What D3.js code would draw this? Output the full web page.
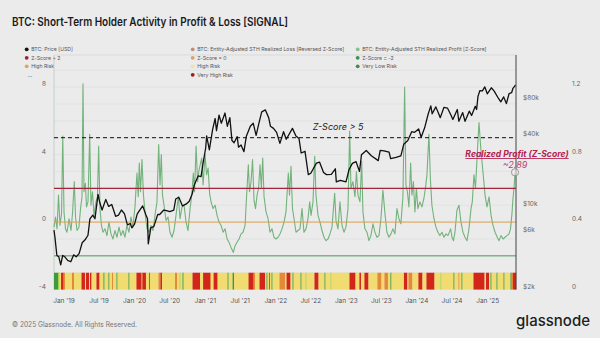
<!DOCTYPE html>
<html>
<head>
<meta charset="utf-8">
<script src="https://cdn.jsdelivr.net/npm/d3@7"></script>
<style>
  body { margin: 0; background: #ebebeb; }
  svg { display: block; font-family: Inter, "Noto Sans", sans-serif; }
</style>
</head>
<body>
<svg id="chart" width="600" height="338"></svg>
<script>
// BTC price (USD)
const priceDate = [
  "2018-11-10","2018-11-15","2018-11-25","2018-12-05","2018-12-15","2018-12-25","2019-01-05","2019-01-20",
  "2019-02-05","2019-02-20","2019-03-05","2019-03-20","2019-04-05","2019-04-20","2019-05-05","2019-05-15",
  "2019-05-30","2019-06-10","2019-06-26","2019-07-05","2019-07-17","2019-08-05","2019-08-20","2019-09-05",
  "2019-09-25","2019-10-10","2019-10-25","2019-11-10","2019-11-25","2019-12-10","2019-12-18","2020-01-01",
  "2020-01-15","2020-02-12","2020-02-28","2020-03-08","2020-03-12","2020-03-25","2020-04-10","2020-04-30",
  "2020-05-10","2020-05-31","2020-06-15","2020-07-01","2020-07-22","2020-08-01","2020-08-17","2020-09-05",
  "2020-09-25","2020-10-10","2020-10-25","2020-11-05","2020-11-25","2020-12-10","2020-12-20","2021-01-03",
  "2021-01-08","2021-01-22","2021-02-08","2021-02-21","2021-02-28","2021-03-13","2021-03-25","2021-04-13",
  "2021-04-25","2021-05-08","2021-05-19","2021-05-30","2021-06-15","2021-06-22","2021-07-05","2021-07-20",
  "2021-08-01","2021-08-22","2021-09-06","2021-09-21","2021-10-05","2021-10-20","2021-11-08","2021-11-25",
  "2021-12-04","2021-12-20","2022-01-05","2022-01-22","2022-02-10","2022-02-24","2022-03-28","2022-04-15",
  "2022-05-01","2022-05-12","2022-06-01","2022-06-18","2022-07-01","2022-07-30","2022-08-15","2022-09-05",
  "2022-09-20","2022-10-15","2022-11-05","2022-11-10","2022-12-01","2022-12-30","2023-01-15","2023-02-01",
  "2023-02-20","2023-03-10","2023-03-20","2023-04-14","2023-05-10","2023-06-15","2023-06-25","2023-07-15",
  "2023-08-10","2023-08-18","2023-09-15","2023-10-10","2023-10-25","2023-11-15","2023-12-05","2023-12-20",
  "2024-01-10","2024-01-23","2024-02-10","2024-02-28","2024-03-13","2024-03-20","2024-04-08","2024-04-20",
  "2024-05-01","2024-05-20","2024-06-07","2024-06-25","2024-07-05","2024-07-28","2024-08-05","2024-08-25",
  "2024-09-06","2024-09-28","2024-10-10","2024-10-29","2024-11-05","2024-11-12","2024-11-22","2024-12-05",
  "2024-12-17","2024-12-30","2025-01-20","2025-02-03","2025-02-27","2025-03-10","2025-03-25","2025-04-08",
  "2025-04-22","2025-05-05","2025-05-12","2025-05-26"
];
const priceUsd = [
  6400,5600,3900,3800,3250,3900,3800,3550,
  3450,3950,3800,4050,5000,5300,5800,8000,
  8600,8000,12900,11000,9500,11700,10200,10600,
  8400,8600,9500,8800,7100,7300,6700,7200,
  8800,10300,8700,8000,4900,6700,6900,8700,
  8700,9500,9400,9200,9500,11800,12200,10300,
  10700,11300,13000,15500,18500,18300,23500,32000,
  40500,30800,46000,57000,45000,61000,52000,63500,
  49000,58000,37000,35500,40000,32500,34000,29800,
  40000,49000,52000,41000,51500,65000,67500,58000,
  49000,47000,43500,35000,44000,38000,47000,40500,
  38500,29000,30000,19000,19500,23800,24300,19800,
  19000,19100,21300,16500,17000,16500,21000,23700,
  24500,20200,28000,30500,27500,25000,30500,30300,
  29500,26000,26600,27400,34500,37000,44000,43500,
  46500,39500,47500,62000,73000,62500,71600,64000,
  58000,71000,70000,61000,56000,68000,54000,64000,
  53900,65800,60500,72500,68000,88000,98500,98000,
  106000,92500,104000,98000,84000,79000,87000,76300,
  93000,94500,103000,110000
];

// Entity-adjusted STH realized profit Z-score (time as decimal year)
const profitT = [
  2018.858,2018.880,2018.901,2018.922,2018.943,2018.965,2018.982,2019.000,2019.021,2019.042,
  2019.071,2019.099,2019.120,2019.146,2019.163,2019.184,2019.212,2019.234,2019.255,2019.269,
  2019.283,2019.302,2019.319,2019.340,2019.364,2019.382,2019.404,2019.425,2019.453,2019.474,
  2019.491,2019.510,2019.531,2019.552,2019.581,2019.609,2019.637,2019.666,2019.694,2019.722,
  2019.751,2019.779,2019.807,2019.836,2019.864,2019.892,2019.921,2019.949,2019.977,2020.006,
  2020.034,2020.052,2020.067,2020.084,2020.105,2020.126,2020.147,2020.176,2020.204,2020.232,
  2020.261,2020.289,2020.317,2020.341,2020.360,2020.378,2020.395,2020.416,2020.445,2020.473,
  2020.501,2020.530,2020.558,2020.586,2020.619,2020.643,2020.671,2020.700,2020.728,2020.756,
  2020.785,2020.806,2020.831,2020.848,2020.870,2020.891,2020.912,2020.950,2020.969,2020.997,
  2021.018,2021.040,2021.061,2021.082,2021.110,2021.139,2021.167,2021.195,2021.224,2021.252,
  2021.280,2021.309,2021.337,2021.365,2021.398,2021.422,2021.450,2021.479,2021.507,2021.535,
  2021.564,2021.585,2021.610,2021.627,2021.649,2021.670,2021.691,2021.712,2021.734,2021.755,
  2021.776,2021.795,2021.814,2021.833,2021.861,2021.890,2021.918,2021.946,2021.974,2022.003,
  2022.031,2022.059,2022.088,2022.116,2022.144,2022.177,2022.194,2022.215,2022.236,2022.258,
  2022.286,2022.314,2022.343,2022.371,2022.399,2022.428,2022.456,2022.480,2022.499,2022.527,
  2022.551,2022.569,2022.598,2022.626,2022.654,2022.683,2022.711,2022.739,2022.768,2022.796,
  2022.834,2022.853,2022.881,2022.909,2022.938,2022.966,2022.994,2023.023,2023.047,2023.065,
  2023.093,2023.122,2023.143,2023.164,2023.193,2023.217,2023.235,2023.263,2023.292,2023.320,
  2023.348,2023.377,2023.405,2023.433,2023.462,2023.490,2023.518,2023.547,2023.575,2023.603,
  2023.632,2023.660,2023.688,2023.717,2023.745,2023.773,2023.802,2023.826,2023.844,2023.865,
  2023.887,2023.911,2023.929,2023.950,2023.972,2023.993,2024.014,2024.042,2024.071,2024.099,
  2024.120,2024.142,2024.170,2024.191,2024.212,2024.241,2024.269,2024.297,2024.326,2024.354,
  2024.382,2024.411,2024.439,2024.477,2024.496,2024.517,2024.538,2024.566,2024.595,2024.623,
  2024.651,2024.680,2024.708,2024.736,2024.765,2024.783,2024.807,2024.828,2024.854,2024.878,
  2024.899,2024.920,2024.942,2024.963,2024.991,2025.020,2025.048,2025.076,2025.105,2025.137,
  2025.161,2025.190,2025.218,2025.246,2025.275,2025.303,2025.324,2025.345,2025.359,2025.374,
  2025.388
];
const profitZ = [
  -0.3,0.3,-0.4,1.6,-0.2,0.5,5.1,0.6,-0.4,-0.6,
  0.2,-0.5,0.5,2.4,0.3,-0.5,-0.3,0.8,1.5,8.2,
  1.8,2.3,0.9,1.2,5.2,1.0,1.8,0.4,1.2,1.5,
  4.5,0.8,-0.2,-0.6,-0.4,-0.8,0.0,-0.7,-1.0,-0.5,
  -0.9,-0.3,-0.8,-0.5,-0.9,-0.2,-0.6,0.3,-0.3,0.9,
  2.9,1.5,3.5,1.8,3.7,1.6,0.6,-0.4,-0.6,-0.2,
  -0.5,0.4,1.2,4.6,2.2,4.0,1.6,1.0,0.1,0.3,
  -0.6,-0.9,-0.5,0.4,1.5,0.2,0.9,1.0,0.0,-0.5,
  0.8,1.5,2.9,1.8,4.5,2.4,3.1,3.8,2.2,4.0,
  2.8,3.2,1.7,1.2,0.8,1.0,0.4,0.0,-0.2,-0.6,
  -0.4,-1.0,-1.2,-1.5,-1.8,-1.4,-1.2,-1.0,-0.7,-0.6,
  -0.2,1.5,3.4,1.8,2.4,3.7,1.3,0.8,1.6,2.0,
  3.4,2.0,3.8,1.5,0.6,0.2,-0.6,-0.4,-0.9,-1.0,
  -0.9,-0.7,-0.4,0.0,0.6,2.9,1.6,3.3,0.8,0.2,
  -0.6,-0.5,-0.4,0.8,-0.6,-0.4,0.2,1.2,0.4,1.2,
  3.9,1.6,0.4,0.0,-0.5,-0.9,-1.1,-1.0,-0.7,-0.3,
  1.7,0.1,-0.4,1.2,-0.2,-0.6,-0.3,0.8,5.4,2.0,
  2.4,1.5,3.0,1.6,1.2,3.6,0.6,-0.4,-0.6,-1.1,
  -0.8,-0.1,-0.6,-0.9,-0.8,0.2,1.9,0.5,-0.6,-0.9,
  -0.7,-0.4,-0.7,0.8,0.2,-0.1,1.5,8.0,2.2,1.8,
  0.9,3.5,1.6,2.4,0.6,2.0,0.8,1.2,0.9,1.4,
  2.0,2.8,5.2,2.5,1.0,0.2,-0.3,-0.6,-0.8,-0.6,
  -0.9,-0.7,-0.8,-0.4,-0.9,-1.1,-0.6,0.7,1.0,0.0,
  -0.6,-0.9,-1.1,-0.4,0.8,1.2,2.8,2.0,4.1,5.9,
  4.6,3.6,2.6,1.6,0.9,1.5,0.4,-0.2,-0.6,-0.9,
  -1.1,-0.8,-1.0,-0.9,-0.8,-0.7,-0.4,0.5,1.4,2.0,
  2.89
];

// Signal strip: each segment starts at a decimal year and runs to the next one
const stripT = [
  2018.858,2018.915,2018.936,2018.958,2018.993,2019.014,2019.113,2019.142,2019.248,2019.297,
  2019.312,2019.354,2019.368,2019.390,2019.460,2019.503,2019.559,2019.574,2019.630,2019.644,
  2019.680,2019.694,2019.744,2019.758,2019.914,2019.928,2020.027,2020.091,2020.112,2020.161,
  2020.204,2020.218,2020.338,2020.367,2020.388,2020.572,2020.601,2020.636,2020.650,2020.678,
  2020.693,2020.820,2020.926,2020.969,2021.068,2021.082,2021.118,2021.174,2021.316,2021.330,
  2021.387,2021.408,2021.613,2021.684,2021.705,2021.769,2021.847,2021.868,2021.882,2021.904,
  2021.918,2021.939,2021.953,2022.052,2022.130,2022.152,2022.208,2022.237,2022.251,2022.350,
  2022.364,2022.421,2022.435,2022.548,2022.605,2022.690,2022.704,2022.775,2022.789,2023.044,
  2023.129,2023.185,2023.207,2023.256,2023.313,2023.440,2023.497,2023.540,2023.589,2023.624,
  2023.639,2023.816,2023.865,2023.880,2023.936,2024.021,2024.078,2024.135,2024.248,2024.333,
  2024.347,2024.517,2024.531,2024.588,2024.602,2024.630,2024.644,2024.800,2024.956,2024.977,
  2025.020,2025.041,2025.055,2025.126,2025.140,2025.225,2025.239,2025.324,2025.338,2025.359
];
// 0 very low, 1 low, 2 neutral, 3 high, 4 very high risk
const stripRisk = [
  0,1,2,4,3,2,3,2,4,2,
  4,2,4,2,4,2,0,2,0,2,
  3,2,0,2,0,2,4,3,4,2,
  0,2,3,4,2,3,2,1,2,0,
  2,4,2,4,3,2,4,2,0,2,
  0,2,4,3,2,4,2,0,2,0,
  2,0,2,3,2,4,2,0,2,0,
  2,1,2,4,2,0,2,1,2,4,
  2,4,2,4,2,3,2,3,2,0,
  2,4,2,3,2,4,2,4,2,1,
  2,0,2,3,2,0,2,4,2,4,
  2,0,2,0,2,0,2,0,3,4
];
const stripEnd = 2025.402;

const leftTicks = [8, 4, 0, -4];
const priceTicks = [80000, 40000, 10000, 6000, 2000];
const priceTickLabels = ["$80k", "$40k", "$10k", "$6k", "$2k"];
const ratioTicks = [1.2, 0.8, 0.4, 0];

const riskColors = ["#3e9a3e", "#a6cf4e", "#f1dc72", "#e5883a", "#d3261b"];

const legendRows = [
  [{ label: "BTC: Price [USD]", color: "#111" },
   { label: "Z-Score + 2", color: "#9c2335" },
   { label: "High Risk", color: "#d8a56c" },
   { label: "...", color: null }],
  [{ label: "BTC: Entity-Adjusted STH Realized Loss [Reversed Z-Score]", color: "#c58c7c" },
   { label: "Z-Score = 0", color: "#d9a45e" },
   { label: "High Risk", color: "#efe3a0" },
   { label: "Very High Risk", color: "#a51a1a" }],
  [{ label: "BTC: Entity-Adjusted STH Realized Profit [Z-Score]", color: "#86c08e" },
   { label: "Z-Score = -2", color: "#3f8f4f" },
   { label: "Very Low Risk", color: "#3f8f4f" }]
];

function yearToDate(t) {
  const yr = Math.floor(t);
  const start = Date.UTC(yr, 0, 1), end = Date.UTC(yr + 1, 0, 1);
  return new Date(start + (t - yr) * (end - start));
}

const svg = d3.select("#chart");
const plotLeft = 54, plotRight = 516, plotTop = 55, plotBottom = 289.6;

const x = d3.scaleUtc()
  .domain([yearToDate(2018.858), yearToDate(stripEnd)])
  .range([plotLeft, plotRight]);
const y = d3.scaleLinear().domain([-4, 9.9]).range([plotBottom, plotTop]);
const yPrice = d3.scaleLog().base(2)
  .domain([2000, 2000 * Math.pow(2, (plotBottom - plotTop) / 35.4)])
  .range([plotBottom, plotTop]);
const yRatio = d3.scaleLinear().domain([0, 1.2]).range([y(-4), y(8)]);

// Title
svg.append("text")
  .attr("x", 12).attr("y", 25.5)
  .attr("font-size", 11.6).attr("font-weight", 600).attr("fill", "#1a1a1a")
  .attr("textLength", 276).attr("lengthAdjust", "spacingAndGlyphs")
  .text("BTC: Short-Term Holder Activity in Profit & Loss [SIGNAL]");

// Legend
const colX = [26.7, 192.7, 357.7];
const rowY = [49.3, 57.8, 66.3, 74.8];
legendRows.forEach((col, ci) => {
  col.forEach((item, ri) => {
    const g = svg.append("g").attr("transform", `translate(${colX[ci]},${rowY[ri]})`);
    if (item.color) g.append("circle").attr("r", 1.9).attr("fill", item.color);
    g.append("text")
      .attr("x", item.color ? 4.5 : 1).attr("y", 1.9)
      .attr("font-size", 5.2).attr("fill", "#555")
      .text(item.label);
  });
});

// Faint gridlines
svg.append("g")
  .selectAll("line")
  .data(d3.range(-3, 10))
  .join("line")
  .attr("x1", plotLeft).attr("x2", plotRight)
  .attr("y1", (d) => y(d)).attr("y2", (d) => y(d))
  .attr("stroke", "#dedede").attr("stroke-width", 0.6);

// Plot frame
svg.append("line").attr("x1", plotLeft).attr("x2", plotRight).attr("y1", plotTop).attr("y2", plotTop)
  .attr("stroke", "#d2d2d2").attr("stroke-width", 0.7);
svg.append("line").attr("x1", plotLeft).attr("x2", plotLeft).attr("y1", plotTop).attr("y2", plotBottom)
  .attr("stroke", "#b9c9bb").attr("stroke-width", 0.8);

// Risk strip
const strip = stripT.map((t, i) => ({
  t0: t, t1: i < stripT.length - 1 ? stripT[i + 1] : stripEnd, risk: stripRisk[i]
}));
svg.append("g")
  .selectAll("rect")
  .data(strip)
  .join("rect")
  .attr("x", (d) => x(yearToDate(d.t0)))
  .attr("width", (d) => x(yearToDate(d.t1)) - x(yearToDate(d.t0)) + 0.2)
  .attr("y", y(-3))
  .attr("height", y(-4) - y(-3))
  .attr("fill", (d) => riskColors[d.risk]);

// Realized profit Z-score
const profit = profitT.map((t, i) => ({ date: yearToDate(t), z: profitZ[i] }));
svg.append("path")
  .datum(profit)
  .attr("fill", "none")
  .attr("stroke", "#72b27b")
  .attr("stroke-width", 1.1)
  .attr("stroke-linejoin", "round")
  .attr("d", d3.line().x((d) => x(d.date)).y((d) => y(d.z)));

// Threshold lines
svg.append("line").attr("x1", plotLeft).attr("x2", plotRight).attr("y1", y(5)).attr("y2", y(5))
  .attr("stroke", "#111").attr("stroke-width", 1).attr("stroke-dasharray", "4,3");
svg.append("line").attr("x1", plotLeft).attr("x2", plotRight).attr("y1", y(2)).attr("y2", y(2))
  .attr("stroke", "#a3253a").attr("stroke-width", 1.2);
svg.append("line").attr("x1", plotLeft).attr("x2", plotRight).attr("y1", y(0)).attr("y2", y(0))
  .attr("stroke", "#e0a04e").attr("stroke-width", 1);
svg.append("line").attr("x1", plotLeft).attr("x2", plotRight).attr("y1", y(-2)).attr("y2", y(-2))
  .attr("stroke", "#4f9a5a").attr("stroke-width", 1);

// BTC price
const price = priceDate.map((d, i) => ({ date: new Date(d), p: priceUsd[i] }));
svg.append("path")
  .datum(price)
  .attr("fill", "none")
  .attr("stroke", "#111")
  .attr("stroke-width", 1.3)
  .attr("stroke-linejoin", "round")
  .attr("d", d3.line().x((d) => x(d.date)).y((d) => yPrice(d.p)));

// Cursor line at latest date
svg.append("line").attr("x1", plotRight).attr("x2", plotRight).attr("y1", plotTop).attr("y2", plotBottom)
  .attr("stroke", "#444").attr("stroke-width", 1);

// Left axis
svg.append("g")
  .selectAll("text")
  .data(leftTicks)
  .join("text")
  .attr("x", 46).attr("y", (d) => y(d) - 1)
  .attr("text-anchor", "end")
  .attr("font-size", 6.5).attr("fill", "#666")
  .text((d) => d);

// Price axis
svg.append("g")
  .selectAll("text")
  .data(priceTicks)
  .join("text")
  .attr("x", 523).attr("y", (d) => yPrice(d) - 1)
  .attr("font-size", 6.5).attr("fill", "#666")
  .text((d, i) => priceTickLabels[i]);

// Ratio axis
svg.append("g")
  .selectAll("text")
  .data(ratioTicks)
  .join("text")
  .attr("x", 572).attr("y", (d) => yRatio(d) - 1)
  .attr("font-size", 6.5).attr("fill", "#666")
  .text((d) => d);

// X axis labels
const fmt = d3.utcFormat("%b '%y");
svg.append("g")
  .selectAll("text")
  .data(x.ticks(d3.utcMonth.every(6)))
  .join("text")
  .attr("x", (d) => x(d)).attr("y", 303)
  .attr("text-anchor", "middle")
  .attr("font-size", 6.5).attr("fill", "#555")
  .text((d) => fmt(d));

// Annotations
svg.append("text")
  .attr("x", 338).attr("y", 130)
  .attr("text-anchor", "middle")
  .attr("font-size", 9).attr("font-style", "italic").attr("fill", "#222")
  .text("Z-Score > 5");

const last = profit[profit.length - 1];
svg.append("text")
  .attr("x", 517).attr("y", 157)
  .attr("text-anchor", "middle")
  .attr("font-size", 8.6).attr("font-weight", 700).attr("font-style", "italic")
  .attr("text-decoration", "underline").attr("fill", "#b3204d")
  .text("Realized Profit (Z-Score)");
svg.append("text")
  .attr("x", 515).attr("y", 167.5)
  .attr("text-anchor", "middle")
  .attr("font-size", 9).attr("font-style", "italic").attr("fill", "#c0406a")
  .text("~" + last.z.toFixed(2));
svg.append("circle")
  .attr("cx", x(last.date)).attr("cy", y(last.z) - 1)
  .attr("r", 3.6)
  .attr("fill", "#f0e8ea").attr("fill-opacity", 0.6)
  .attr("stroke", "#888").attr("stroke-width", 0.8);

// Footer
svg.append("text")
  .attr("x", 12).attr("y", 327)
  .attr("font-size", 7.3).attr("fill", "#777")
  .attr("textLength", 125).attr("lengthAdjust", "spacingAndGlyphs")
  .text("© 2025 Glassnode. All Rights Reserved.");
svg.append("text")
  .attr("x", 590).attr("y", 326)
  .attr("text-anchor", "end")
  .attr("font-size", 15).attr("font-weight", 500).attr("fill", "#1d1d1d")
  .text("glassnode");
</script>
</body>
</html>
